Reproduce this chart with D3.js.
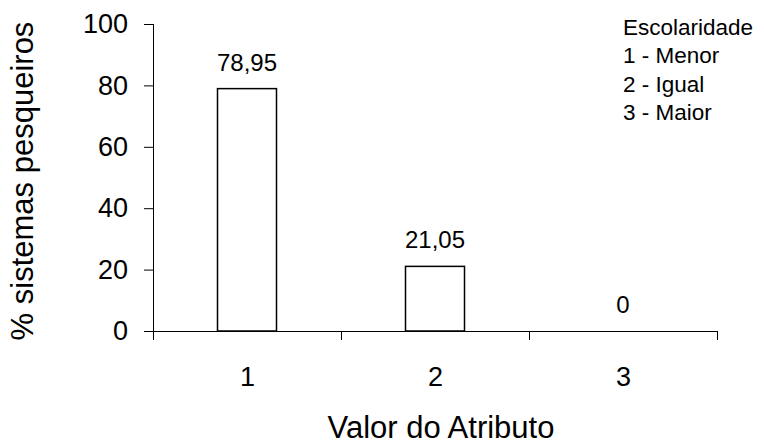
<!DOCTYPE html>
<html>
<head>
<meta charset="utf-8">
<script src="https://cdn.jsdelivr.net/npm/d3@7"></script>
<style>
  body { margin: 0; background: #fff; }
  svg text { font-family: "Liberation Sans", Arial, sans-serif; fill: #000; }
</style>
</head>
<body>
<div id="chart"></div>
<script>
const categories = [1, 2, 3]
const values = [78.95, 21.05, 0]
const valueLabels = ["78,95", "21,05", "0"]
const yTicks = [0, 20, 40, 60, 80, 100]
const legendTitle = "Escolaridade"
const legendItems = ["1 - Menor", "2 - Igual", "3 - Maior"]

const W = 764, H = 446
const margin = {top: 24, right: 47, bottom: 115, left: 153}
const width = W - margin.left - margin.right,
      height = H - margin.top - margin.bottom

const svg = d3.select("#chart")
  .append("svg")
    .attr("width", W)
    .attr("height", H)
  .append("g")
    .attr("transform", "translate(" + margin.left + "," + margin.top + ")")

const x = d3.scaleLinear().domain([0.5, 3.5]).range([0, width])
const y = d3.scaleLinear().domain([0, 100]).range([height, 0])
const barW = 59

// bars
svg.selectAll("rect.bar")
  .data(values)
  .enter()
  .append("rect")
    .attr("class", "bar")
    .attr("x", (d, i) => x(categories[i]) - barW / 2)
    .attr("y", d => y(d))
    .attr("width", barW)
    .attr("height", d => y(0) - y(d))
    .style("fill", "white")
    .style("stroke", "black")
    .style("stroke-width", 1.5)

// value labels
svg.selectAll("text.val")
  .data(values)
  .enter()
  .append("text")
    .attr("class", "val")
    .attr("x", (d, i) => x(categories[i]))
    .attr("y", d => y(d) - 18)
    .attr("text-anchor", "middle")
    .style("font-size", "24px")
    .text((d, i) => valueLabels[i])

//y axis
const gY = svg.append("g")
  .call(d3.axisLeft(y).tickValues(yTicks).tickSize(9).tickPadding(16))
  .style("font-size", "27px")
gY.select(".domain").attr("d", "M0.5," + y(100) + "V" + (height + 9))

//x axis: ticks at category boundaries
const gX = svg.append("g")
  .attr("transform", "translate(0," + height + ")")
  .call(d3.axisBottom(x).tickValues([0.5, 1.5, 2.5, 3.5]).tickSize(9).tickFormat(""))
gX.select(".domain").attr("d", "M-9,0.5H" + width)

const gX2 = svg.append("g")
  .attr("transform", "translate(0," + height + ")")
  .call(d3.axisBottom(x).tickValues(categories).tickSize(0).tickPadding(36).tickFormat(d3.format("d")))
  .style("font-size", "27px")
gX2.select(".domain").remove()

// axis titles
svg.append("text")
  .attr("x", 288)
  .attr("y", 414)
  .attr("text-anchor", "middle")
  .style("font-size", "31px")
  .text("Valor do Atributo")

svg.append("text")
  .attr("transform", "rotate(-90)")
  .attr("x", -157)
  .attr("y", -120)
  .attr("text-anchor", "middle")
  .style("font-size", "31px")
  .text("% sistemas pesqueiros")

// legend
const legend = svg.append("g")
  .attr("transform", "translate(" + (623 - margin.left) + ",0)")
legend.selectAll("text")
  .data([legendTitle].concat(legendItems))
  .enter()
  .append("text")
    .attr("y", (d, i) => 11 + i * 28.4)
    .style("font-size", "22.5px")
    .text(d => d)
</script>
</body>
</html>
